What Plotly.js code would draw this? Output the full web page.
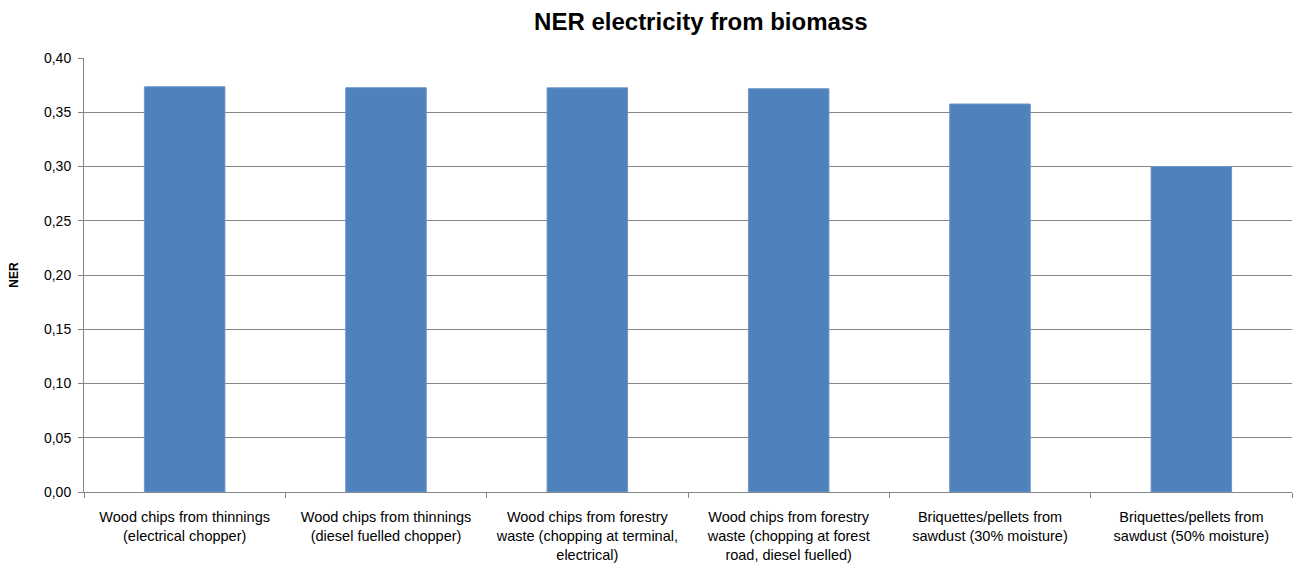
<!DOCTYPE html>
<html>
<head>
<meta charset="utf-8">
<script src="https://cdn.plot.ly/plotly-3.0.1.min.js"></script>
<style>html,body{margin:0;padding:0;background:#fff;}#chart{width:1293px;height:565px;}</style>
</head>
<body>
<div id="chart"></div>
<script>
const categories = [
  "Wood chips from thinnings<br>(electrical chopper)",
  "Wood chips from thinnings<br>(diesel fuelled chopper)",
  "Wood chips from forestry<br>waste (chopping at terminal,<br>electrical)",
  "Wood chips from forestry<br>waste (chopping at forest<br>road, diesel fuelled)",
  "Briquettes/pellets from<br>sawdust (30% moisture)",
  "Briquettes/pellets from<br>sawdust (50% moisture)"
];
const nerValues = [0.3735, 0.3726, 0.3725, 0.3717, 0.3576, 0.3000];
const yTicks = [0, 0.05, 0.10, 0.15, 0.20, 0.25, 0.30, 0.35, 0.40];

const trace = {
  type: 'bar',
  x: categories,
  y: nerValues,
  marker: {color: '#4F81BD', line: {color: '#6E98CC', width: 1}},
  width: 0.4,
  hoverinfo: 'y'
};

const layout = {
  width: 1293, height: 565,
  margin: {l: 84, r: 1, t: 58, b: 73},
  paper_bgcolor: '#fff', plot_bgcolor: '#fff',
  separators: ',.',
  font: {family: 'Liberation Sans, Arial, sans-serif', size: 13, color: '#000'},
  title: {
    text: '<b>NER electricity from biomass</b>',
    font: {family: 'Liberation Sans, Arial, sans-serif', size: 24, color: '#000'},
    x: 0.542, xref: 'container', xanchor: 'center',
    y: 0.962, yref: 'container', yanchor: 'middle'
  },
  xaxis: {
    type: 'category',
    showline: true, linecolor: '#868686', linewidth: 1,
    ticks: 'outside', tickson: 'boundaries', ticklen: 5, tickcolor: '#868686',
    showgrid: false,
    tickfont: {size: 14.5},
    ticklabelstandoff: 12
  },
  yaxis: {
    range: [0, 0.40],
    tickvals: yTicks,
    tickformat: '.2f',
    showline: true, linecolor: '#868686', linewidth: 1,
    ticks: 'outside', ticklen: 5, tickcolor: '#868686',
    showgrid: true, gridcolor: '#868686', gridwidth: 1,
    zeroline: false,
    tickfont: {size: 14},
    ticklabelstandoff: 4,
    title: {text: '<b>NER</b>', font: {size: 12}, standoff: 22}
  },
  bargap: 0.6,
  showlegend: false
};

Plotly.newPlot('chart', [trace], layout, {displayModeBar: false, staticPlot: true});
</script>
</body>
</html>
